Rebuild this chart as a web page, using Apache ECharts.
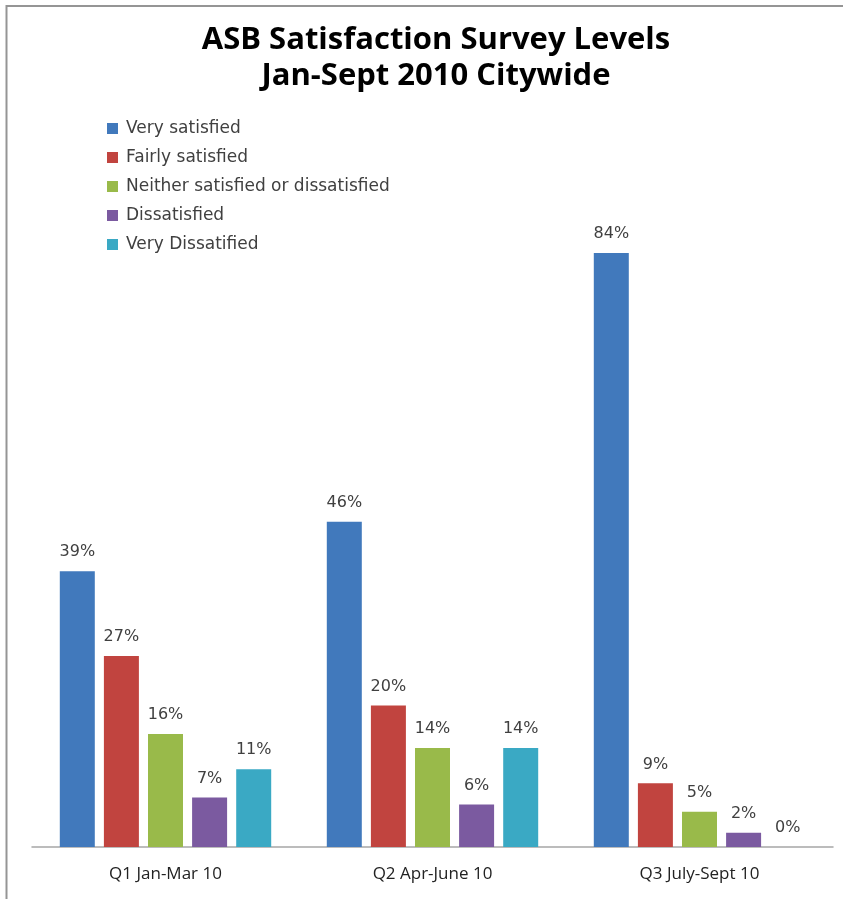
<!DOCTYPE html>
<html>
<head>
<meta charset="utf-8">
<script src="https://cdn.jsdelivr.net/npm/echarts@6/dist/echarts.min.js"></script>
<style>
    html, body { margin: 0; padding: 0; background: #fff; }
    #chart { width: 843px; height: 899px; }
</style>
</head>
<body>
<div id="chart"></div>
<script type="text/javascript">
    // 数据
    let categories = ['Q1 Jan-Mar 10', 'Q2 Apr-June 10', 'Q3 July-Sept 10'];
    let seriesNames = ['Very satisfied', 'Fairly satisfied', 'Neither satisfied or dissatisfied', 'Dissatisfied', 'Very Dissatified'];
    let verySatisfied = [39, 46, 84];
    let fairlySatisfied = [27, 20, 9];
    let neitherSatisfied = [16, 14, 5];
    let dissatisfied = [7, 6, 2];
    let veryDissatisfied = [11, 14, 0];

    let colors = ['#4179bc', '#c1443f', '#99ba4a', '#7b5aa0', '#3aa9c4'];
    let values = [verySatisfied, fairlySatisfied, neitherSatisfied, dissatisfied, veryDissatisfied];

    let chart = echarts.init(document.getElementById('chart'));

    let series = seriesNames.map(function (name, i) {
        return {
            name: name,
            type: 'bar',
            data: values[i],
            barWidth: 35,
            barGap: '26%',
            itemStyle: { color: colors[i] },
            label: {
                show: true,
                position: 'top',
                distance: 11,
                formatter: '{c}%',
                fontFamily: 'DejaVu Sans',
                fontSize: 16,
                color: '#404040'
            }
        };
    });

    let option = {
        backgroundColor: '#fff',
        animation: false,
        color: colors,
        title: {
            text: 'ASB Satisfaction Survey Levels\nJan-Sept 2010 Citywide',
            left: 431,
            textAlign: 'center',
            top: 17,
            textStyle: {
                fontFamily: 'Open Sans',
                fontWeight: 'bold',
                fontSize: 31,
                lineHeight: 36,
                color: '#000'
            }
        },
        legend: {
            data: seriesNames,
            orient: 'vertical',
            left: 102,
            top: 115,
            itemWidth: 11,
            itemHeight: 11,
            itemGap: 12,
            icon: 'rect',
            textStyle: {
                fontFamily: 'DejaVu Sans',
                fontSize: 17,
                color: '#404040',
                padding: [0, 0, 0, 3]
            }
        },
        grid: {
            left: 32,
            right: 10,
            top: 140,
            bottom: 52
        },
        xAxis: {
            type: 'category',
            data: categories,
            axisLine: { lineStyle: { color: '#a6a6a6', width: 1.5 } },
            axisTick: { show: false },
            axisLabel: {
                margin: 19,
                fontFamily: 'Open Sans',
                fontSize: 17,
                color: '#222'
            }
        },
        yAxis: {
            type: 'value',
            min: 0,
            max: 100,
            show: false
        },
        graphic: [
            { type: 'line', shape: { x1: 6, y1: 6, x2: 843, y2: 6 }, style: { stroke: '#959595', lineWidth: 2 } },
            { type: 'line', shape: { x1: 6.5, y1: 5, x2: 6.5, y2: 899 }, style: { stroke: '#959595', lineWidth: 2 } }
        ],
        series: series
    };

    chart.setOption(option);
</script>
</body>
</html>
